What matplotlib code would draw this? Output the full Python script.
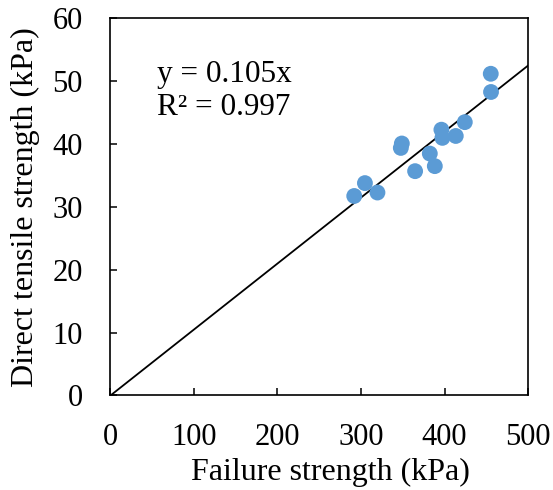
import matplotlib
matplotlib.use("Agg")
import matplotlib.pyplot as plt
import numpy as np

# Measured strengths (kPa)
failure_strength = [291.9, 304.7, 319.7, 347.7, 348.9, 364.8, 382.4,
                    388.4, 396.3, 397.5, 413.5, 424.3, 455.4, 455.7]
tensile_strength = [31.75, 33.8, 32.3, 39.4, 40.1, 35.7, 38.5,
                    36.5, 42.3, 41.0, 41.3, 43.5, 51.2, 48.3]
slope = 0.105
r_squared = 0.997
x_ticks = [0, 100, 200, 300, 400, 500]
y_ticks = [0, 10, 20, 30, 40, 50, 60]

plt.rcParams['font.family'] = ['Liberation Serif', 'DejaVu Serif']

fig = plt.figure(figsize=(5.53, 4.90), dpi=100)
ax = fig.add_axes([0.1998, 0.1929, 0.755, 0.7694])

ax.scatter(failure_strength, tensile_strength, s=130, color='#5B9BD5',
           edgecolors='none', zorder=3)
fit_x = np.array([0, 500])
ax.plot(fit_x, slope * fit_x, color='black', linewidth=1.3, zorder=2)

ax.set_xlim(0, 500)
ax.set_ylim(0, 60)
ax.set_xticks(x_ticks)
ax.set_yticks(y_ticks)
ax.tick_params(direction='in', length=5, width=1.1, labelsize=22)
ax.tick_params(axis='x', pad=20)
ax.tick_params(axis='y', pad=20)
for s in ax.spines.values():
    s.set_linewidth(1.2)

ax.set_xlabel('Failure strength (kPa)', fontsize=23)
ax.xaxis.set_label_coords(0.526, -0.165)
ax.set_ylabel('Direct tensile strength (kPa)', fontsize=23, labelpad=9)

ax.text(56, 49.9, f'y = {slope}x', fontsize=22.5, va='baseline', ha='left')
ax.text(56, 44.7, f'R² = {r_squared}', fontsize=22.5, va='baseline', ha='left')

fig.savefig('out.png', dpi=100)
